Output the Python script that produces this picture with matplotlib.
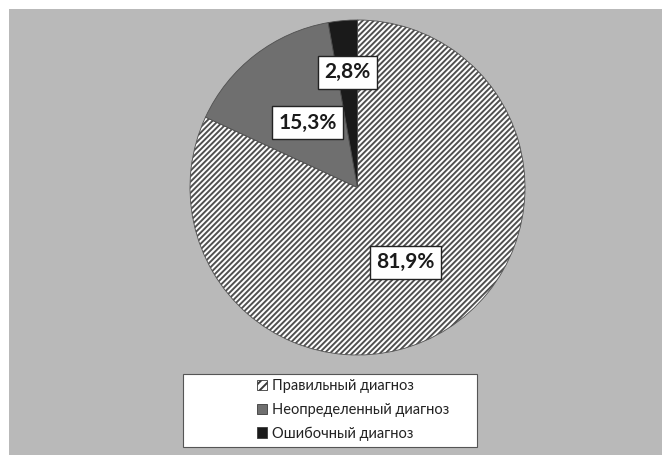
import numpy as np
import matplotlib
matplotlib.use('Agg')
import matplotlib.pyplot as plt
from matplotlib.patches import Rectangle, Patch

plt.rcParams['font.family'] = ['Lato', 'DejaVu Sans']
plt.rcParams['hatch.linewidth'] = 1.4

labels = ['Правильный диагноз', 'Неопределенный диагноз', 'Ошибочный диагноз']
shares = [81.9, 15.3, 2.8]
pct_text = ['81,9%', '15,3%', '2,8%']
colors = ['white', '#6f6f6f', '#1a1a1a']
hatches = ['//////', None, None]
label_r = [0.53, 0.49, 0.69]

fig = plt.figure(figsize=(6.62, 4.55), dpi=100)

# grey plot area
fig.patches.append(Rectangle((9 / 662, 0), 1, 1 - 9 / 455, transform=fig.transFigure,
                             facecolor='#b9b9b9', edgecolor='none', zorder=-10))

# pie centre (357.5, 187.5) px, radius 167.5 px
cx, cy, r = 357.5, 187.5, 167.5
ax = fig.add_axes([(cx - r) / 662, 1 - (cy + r) / 455, 2 * r / 662, 2 * r / 455])
wedges, _ = ax.pie(shares, colors=colors, startangle=90, counterclock=False,
                   wedgeprops=dict(edgecolor='#505050', linewidth=0.6))
for w, h in zip(wedges, hatches):
    if h:
        w.set_hatch(h)
ax.set_xlim(-1, 1)
ax.set_ylim(-1, 1)
ax.set_aspect('equal')

for w, txt, lr in zip(wedges, pct_text, label_r):
    mid = np.deg2rad((w.theta1 + w.theta2) / 2)
    ax.text(lr * np.cos(mid), lr * np.sin(mid), txt, ha='center', va='center',
            fontsize=15, fontweight='bold', color='#1a1a1a',
            bbox=dict(boxstyle='square,pad=0.3', facecolor='white',
                      edgecolor='#222222', linewidth=1.0))

# legend box
fig.patches.append(Rectangle((183 / 662, 1 - 447 / 455), 294 / 662, 73 / 455,
                             transform=fig.transFigure, facecolor='white',
                             edgecolor='#555555', linewidth=0.8, zorder=-5))
handles = [Patch(facecolor=c, edgecolor='#3a3a3a', hatch=h, linewidth=0.6)
           for c, h in zip(colors, ['////', None, None])]
leg = fig.legend(handles, labels, loc='center', bbox_to_anchor=(353 / 662, 1 - 410 / 455),
                 frameon=False, fontsize=10.5, handlelength=0.7, handleheight=0.7,
                 handletextpad=0.3, labelspacing=0.65, borderpad=0)
for t in leg.get_texts():
    t.set_color('#222222')

fig.savefig('out.png', dpi=100)
